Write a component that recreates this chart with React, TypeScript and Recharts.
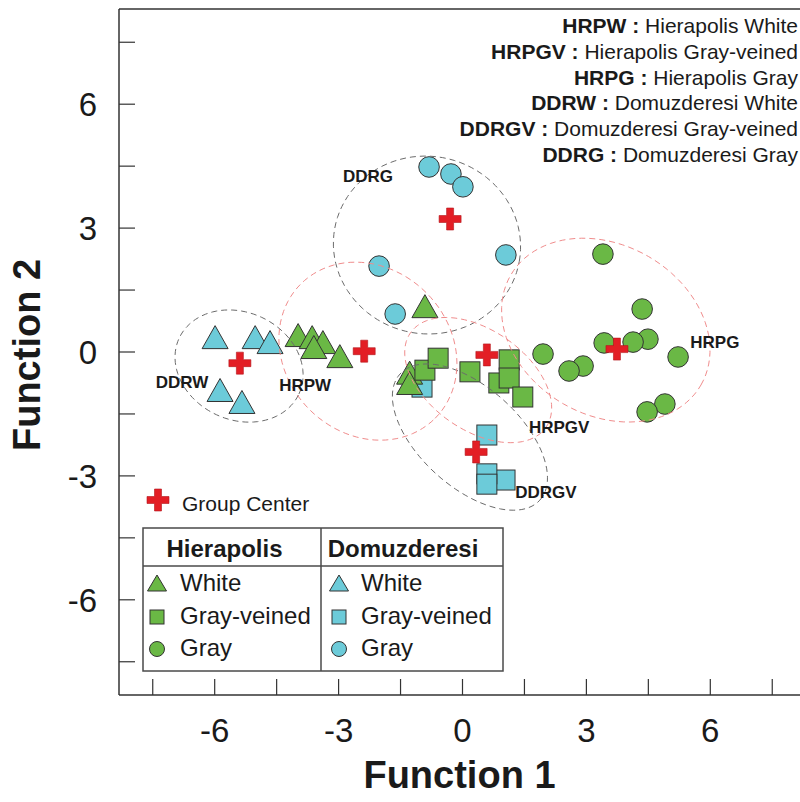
import React from 'react';
import { ScatterChart, Scatter, XAxis, YAxis, ReferenceLine } from 'recharts';

const FONT = '"Liberation Sans", Arial, Helvetica, sans-serif';
const GREEN = '#6ab845';
const BLUE = '#6ccbd9';
const EDGE = '#333333';
const RED = '#e31e25';
const TEXT = '#1a1a1a';
const GRAY_LINE = '#6b6b6b';
const RED_LINE = '#f08c8c';

// ---- data (Function 1 = x, Function 2 = y) ----
const hrpWhite = [
  { x: -3.98, y: 0.41 }, { x: -3.64, y: 0.36 }, { x: -3.38, y: 0.24 }, { x: -3.6, y: 0.12 },
  { x: -2.97, y: -0.1 }, { x: -0.91, y: 1.11 }, { x: -1.28, y: -0.5 }, { x: -1.28, y: -0.75 },
];
const hrpGrayVeined = [
  { x: -0.91, y: -0.44 }, { x: -0.59, y: -0.15 }, { x: 0.18, y: -0.48 }, { x: 1.13, y: -0.19 },
  { x: 0.88, y: -0.75 }, { x: 1.13, y: -0.63 }, { x: 1.46, y: -1.09 },
];
const hrpGray = [
  { x: 3.4, y: 2.37 }, { x: 4.35, y: 1.04 }, { x: 3.43, y: 0.22 }, { x: 4.49, y: 0.31 },
  { x: 4.13, y: 0.24 }, { x: 5.22, y: -0.12 }, { x: 1.95, y: -0.05 }, { x: 2.92, y: -0.34 },
  { x: 2.58, y: -0.46 }, { x: 4.9, y: -1.26 }, { x: 4.47, y: -1.45 },
];
const ddrWhite = [
  { x: -5.99, y: 0.36 }, { x: -5.02, y: 0.36 }, { x: -4.66, y: 0.24 }, { x: -5.87, y: -0.92 },
  { x: -5.34, y: -1.21 },
];
const ddrGrayVeined = [
  { x: -0.98, y: -0.85 }, { x: 0.59, y: -2.01 }, { x: 1.03, y: -3.1 }, { x: 0.59, y: -2.95 },
  { x: 0.59, y: -3.2 },
];
const ddrGray = [
  { x: -0.81, y: 4.48 }, { x: -0.28, y: 4.31 }, { x: 0.01, y: 4.0 }, { x: 1.05, y: 2.35 },
  { x: -2.02, y: 2.08 }, { x: -1.63, y: 0.92 },
];
const groupCenters = [
  { x: -0.3, y: 3.22 }, { x: -2.38, y: 0.02 }, { x: -5.39, y: -0.27 },
  { x: 0.59, y: -0.07 }, { x: 0.33, y: -2.42 }, { x: 3.74, y: 0.07 },
];
const groupLabels = [
  { x: -2.29, y: 4.24, name: 'DDRG' }, { x: -6.79, y: -0.73, name: 'DDRW' },
  { x: -3.81, y: -0.82, name: 'HRPW' }, { x: 2.34, y: -1.84, name: 'HRPGV' },
  { x: 2.02, y: -3.39, name: 'DDRGV' }, { x: 6.11, y: 0.22, name: 'HRPG' },
];
// confidence ellipses: centre, semi-axes, rotation (deg)
const ellipses = [
  { id: 'DDRG', cx: -0.86, cy: 2.59, a: 2.27, b: 2.15, angle: -10, color: GRAY_LINE },
  { id: 'DDRW', cx: -5.41, cy: -0.34, a: 1.6, b: 1.3, angle: -25, color: GRAY_LINE },
  { id: 'DDRGV', cx: 0.18, cy: -2.06, a: 2.28, b: 1.21, angle: -42, color: GRAY_LINE },
  { id: 'HRPW', cx: -2.29, cy: 0.02, a: 2.3, b: 2.0, angle: -45, color: RED_LINE },
  { id: 'HRPGV', cx: 0.38, cy: -0.68, a: 2.0, b: 1.21, angle: -35, color: RED_LINE },
  { id: 'HRPG', cx: 3.47, cy: 0.53, a: 2.66, b: 2.06, angle: -30, color: RED_LINE },
];
const AXIS_TICKS = [-7.5, -6, -4.5, -3, -1.5, 0, 1.5, 3, 4.5, 6, 7.5];
const LABELED_TICKS = [-6, -3, 0, 3, 6];
const X_DOMAIN = [-8.317, 8.172];
const Y_DOMAIN = [-8.305, 8.305];

const legendLines = [
  { abbr: 'HRPW :', full: 'Hierapolis White' },
  { abbr: 'HRPGV :', full: 'Hierapolis Gray-veined' },
  { abbr: 'HRPG :', full: 'Hierapolis Gray' },
  { abbr: 'DDRW :', full: 'Domuzderesi White' },
  { abbr: 'DDRGV :', full: 'Domuzderesi Gray-veined' },
  { abbr: 'DDRG :', full: 'Domuzderesi Gray' },
];
const tableSites = ['Hierapolis', 'Domuzderesi'];
const tableTypes = ['White', 'Gray-veined', 'Gray'];

function ellipsePoints(e: any) {
  const pts: any[] = [];
  const th = (e.angle * Math.PI) / 180;
  const n = 96;
  for (let i = 0; i <= n; i++) {
    const t = (i / n) * 2 * Math.PI;
    const ex = e.a * Math.cos(t);
    const ey = e.b * Math.sin(t);
    pts.push({ x: e.cx + ex * Math.cos(th) - ey * Math.sin(th), y: e.cy + ex * Math.sin(th) + ey * Math.cos(th) });
  }
  return pts;
}

const triangle = (fill: string, w = 26, h = 23) => (p: any) => {
  const { cx, cy } = p;
  if (cx == null) return <g />;
  return (
    <polygon
      points={`${cx},${cy - h / 2} ${cx + w / 2},${cy + h / 2} ${cx - w / 2},${cy + h / 2}`}
      fill={fill} stroke={EDGE} strokeWidth={1} strokeLinejoin="round"
    />
  );
};
const square = (fill: string, s = 20) => (p: any) => {
  const { cx, cy } = p;
  if (cx == null) return <g />;
  return <rect x={cx - s / 2} y={cy - s / 2} width={s} height={s} fill={fill} stroke={EDGE} strokeWidth={1} />;
};
const circle = (fill: string, r = 10.3) => (p: any) => {
  const { cx, cy } = p;
  if (cx == null) return <g />;
  return <circle cx={cx} cy={cy} r={r} fill={fill} stroke={EDGE} strokeWidth={1} />;
};
function plusPath(cx: number, cy: number, L = 22, T = 7) {
  const h = L / 2, t = T / 2, arm = h - t;
  return `M${cx - t},${cy - h} h${T} v${arm} h${arm} v${T} h${-arm} v${arm} h${-T} v${-arm} h${-arm} v${-T} h${arm} Z`;
}
const plus = (p: any) => {
  const { cx, cy } = p;
  if (cx == null) return <g />;
  return <path d={plusPath(cx, cy)} fill={RED} stroke="#b3151b" strokeWidth={0.6} />;
};
const empty = () => <g />;
const groupText = (p: any) => {
  const { cx, cy } = p;
  const name = (p.payload && p.payload.name) || p.name;
  return (
    <text x={cx} y={cy} textAnchor="middle" dominantBaseline="central" fontFamily={FONT}
      fontWeight="bold" fontSize={17} fill={TEXT}>{name}</text>
  );
};

const XTick = (p: any) => {
  const v = p.payload.value;
  if (!LABELED_TICKS.includes(v)) return <g />;
  return (
    <text x={p.x} y={p.y} dy={25} textAnchor="middle" fontFamily={FONT} fontSize={33} fill={TEXT}>{v}</text>
  );
};
const YTick = (p: any) => {
  const v = p.payload.value;
  if (!LABELED_TICKS.includes(v)) return <g />;
  return (
    <text x={p.x} y={p.y} dy={12} textAnchor="end" fontFamily={FONT} fontSize={33} fill={TEXT}>{v}</text>
  );
};

const XTitle = (p: any) => {
  const vb = p.viewBox || {};
  return (
    <text x={vb.x + vb.width / 2} y={vb.y + 93} textAnchor="middle" fontFamily={FONT} fontWeight="bold"
      fontSize={38} fill={TEXT}>Function 1</text>
  );
};
const YTitle = (p: any) => {
  const vb = p.viewBox || {};
  const x = vb.x + 27;
  const y = vb.y + vb.height / 2 + 3;
  return (
    <text x={x} y={y} transform={`rotate(-90, ${x}, ${y})`} textAnchor="middle" dominantBaseline="central"
      fontFamily={FONT} fontWeight="bold" fontSize={38} fill={TEXT}>Function 2</text>
  );
};

const W = 800;
const H = 802;

export default function App() {
  return (
    <div style={{ position: 'relative', width: W, height: H }}>
      <style>{'body{margin:0;padding:0;} html{overflow:hidden;}'}</style>
      <ScatterChart width={W} height={H} margin={{ top: 9, right: 0, bottom: 0, left: 0 }}>
        <XAxis type="number" dataKey="x" domain={X_DOMAIN} allowDataOverflow ticks={AXIS_TICKS} interval={0}
          height={107} tick={<XTick />} tickSize={-16} tickMargin={38}
          tickLine={{ stroke: EDGE, strokeWidth: 1.2 }} axisLine={{ stroke: EDGE, strokeWidth: 1.5 }}
          label={<XTitle />} />
        <YAxis type="number" dataKey="y" domain={Y_DOMAIN} allowDataOverflow ticks={AXIS_TICKS} interval={0}
          width={119} tick={<YTick />} tickSize={-16} tickMargin={38}
          tickLine={{ stroke: EDGE, strokeWidth: 1.2 }} axisLine={{ stroke: EDGE, strokeWidth: 1.5 }}
          label={<YTitle />} />
        <ReferenceLine y={Y_DOMAIN[1]} stroke={EDGE} strokeWidth={1.5} />

        <Scatter name="Domuzderesi White" data={ddrWhite} shape={triangle(BLUE)} isAnimationActive={false} />
        <Scatter name="Domuzderesi Gray-veined" data={ddrGrayVeined} shape={square(BLUE)} isAnimationActive={false} />
        <Scatter name="Domuzderesi Gray" data={ddrGray} shape={circle(BLUE)} isAnimationActive={false} />
        <Scatter name="Hierapolis White" data={hrpWhite} shape={triangle(GREEN)} isAnimationActive={false} />
        <Scatter name="Hierapolis Gray-veined" data={hrpGrayVeined} shape={square(GREEN)} isAnimationActive={false} />
        <Scatter name="Hierapolis Gray" data={hrpGray} shape={circle(GREEN)} isAnimationActive={false} />

        {ellipses.map((e) => (
          <Scatter key={e.id} name={e.id + ' ellipse'} data={ellipsePoints(e)} shape={empty}
            line={{ stroke: e.color, strokeWidth: 1, strokeDasharray: '6 4', fill: 'none' }}
            lineType="joint" isAnimationActive={false} legendType="none" />
        ))}

        <Scatter name="Group Center" data={groupCenters} shape={plus} isAnimationActive={false} />
        <Scatter name="labels" data={groupLabels} shape={groupText} isAnimationActive={false} />
      </ScatterChart>

      <svg width={W} height={H} style={{ position: 'absolute', left: 0, top: 0, pointerEvents: 'none' }}>
        {legendLines.map((l, i) => (
          <text key={l.abbr} x={798} y={25 + 25.8 * i} textAnchor="end" dominantBaseline="central"
            fontFamily={FONT} fontSize={21} fill={TEXT}>
            <tspan fontWeight="bold">{l.abbr}</tspan>
            <tspan>{' ' + l.full}</tspan>
          </text>
        ))}

        <path d={plusPath(158, 500)} fill={RED} stroke="#b3151b" strokeWidth={0.6} />
        <text x={182} y={503} dominantBaseline="central" fontFamily={FONT} fontSize={21} fill={TEXT}>Group Center</text>

        <rect x={143} y={528} width={360} height={143} fill="#fff" stroke="#4a4a4a" strokeWidth={1.5} />
        <line x1={143} y1={566} x2={503} y2={566} stroke="#4a4a4a" strokeWidth={1.5} />
        <line x1={321} y1={528} x2={321} y2={671} stroke="#4a4a4a" strokeWidth={1.5} />
        {tableSites.map((s, ci) => (
          <text key={s} x={ci === 0 ? 224.5 : 403} y={548} textAnchor="middle" dominantBaseline="central"
            fontFamily={FONT} fontWeight="bold" fontSize={24} fill={TEXT}>{s}</text>
        ))}
        {tableSites.map((s, ci) => {
          const fill = ci === 0 ? GREEN : BLUE;
          const mx = ci === 0 ? 157 : 339;
          const tx = ci === 0 ? 180 : 361;
          return tableTypes.map((t, ri) => {
            const cy = [582, 615, 647][ri];
            let marker;
            if (ri === 0) marker = triangle(fill, 19, 16)({ cx: mx, cy: cy + 1 });
            else if (ri === 1) marker = square(fill, 14)({ cx: mx, cy: cy + 2 });
            else marker = circle(fill, 7.5)({ cx: mx, cy: cy + 2 });
            return (
              <g key={s + t}>
                {marker}
                <text x={tx} y={cy} dominantBaseline="central" fontFamily={FONT} fontSize={24} fill={TEXT}>{t}</text>
              </g>
            );
          });
        })}
      </svg>
    </div>
  );
}
